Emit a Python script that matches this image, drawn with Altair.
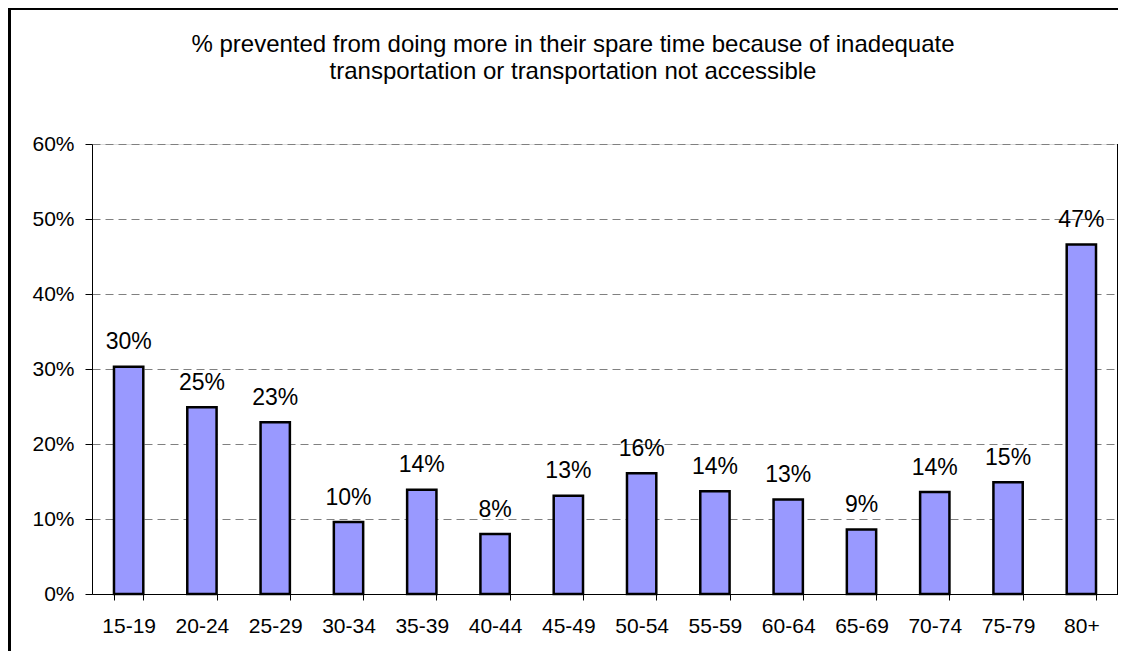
import altair as alt
import pandas as pd

categories = ["15-19", "20-24", "25-29", "30-34", "35-39", "40-44", "45-49",
              "50-54", "55-59", "60-64", "65-69", "70-74", "75-79", "80+"]
values = [0.303, 0.249, 0.229, 0.096, 0.139, 0.080, 0.131,
          0.161, 0.137, 0.126, 0.086, 0.136, 0.149, 0.466]
y_ticks = [0, 0.1, 0.2, 0.3, 0.4, 0.5, 0.6]
title_text = ("% prevented from doing more in their spare time because of inadequate\n"
              "transportation or transportation not accessible")

df = pd.DataFrame({"age": categories, "share": values})
title_df = pd.DataFrame({"t": [title_text]})

W, H = 1026, 450
PL, PT = 84, 136
FONT = "Liberation Sans"

x = alt.X("age:N", sort=categories,
          scale=alt.Scale(paddingInner=0.6, paddingOuter=0.3),
          axis=alt.Axis(title=None, labelAngle=0, labelFontSize=21, labelFont=FONT,
                        labelColor="black", labelPadding=15, tickBand="extent",
                        tickSize=6, tickColor="black", domainColor="black",
                        domainWidth=1, grid=False))
y = alt.Y("share:Q",
          scale=alt.Scale(domain=[0, 0.6], nice=False),
          axis=alt.Axis(title=None, values=y_ticks, format=".0%", labelFontSize=21,
                        labelFont=FONT, labelColor="black", labelPadding=11,
                        tickSize=7, tickColor="black", domainColor="black",
                        domainWidth=1, grid=True, gridColor="#808080",
                        gridDash=[8, 5], gridWidth=1))

base = alt.Chart(df)

bars = base.mark_bar(fill="#9999FF", stroke="black", strokeWidth=2.5).encode(x=x, y=y)

labels = base.mark_text(baseline="alphabetic", dy=-17.5, fontSize=23, font=FONT,
                        color="black").encode(
    x=alt.X("age:N", sort=categories),
    y="share:Q",
    text=alt.Text("share:Q", format=".0%"))

right_border = base.mark_rule(color="black", strokeWidth=1).encode(
    x=alt.value(W - 0.5), y=alt.value(0), y2=alt.value(H))

frame_top = base.mark_rule(color="black", strokeWidth=2, clip=False).encode(
    x=alt.value(9.3 - 8 - PL), x2=alt.value(W + 50), y=alt.value(8.3 - 8 - PT))
frame_left = base.mark_rule(color="black", strokeWidth=2, clip=False).encode(
    x=alt.value(9.3 - 8 - PL), y=alt.value(-PT), y2=alt.value(H + 100))

title = alt.Chart(title_df).mark_text(
    align="center", baseline="alphabetic", fontSize=24, font=FONT, color="black",
    lineBreak="\n", lineHeight=27).encode(
    x=alt.value(573 - 8 - PL), y=alt.value(52 - 8 - PT), text="t:N")

chart = alt.layer(bars, labels, right_border, frame_top, frame_left, title).properties(
    width=W, height=H,
    autosize=alt.AutoSizeParams(type="none"),
    padding={"left": PL, "top": PT, "right": 0, "bottom": 57},
).configure_view(stroke=None).configure(background="white")

chart.save("out.html", embed_options={"renderer": "svg", "actions": False})
